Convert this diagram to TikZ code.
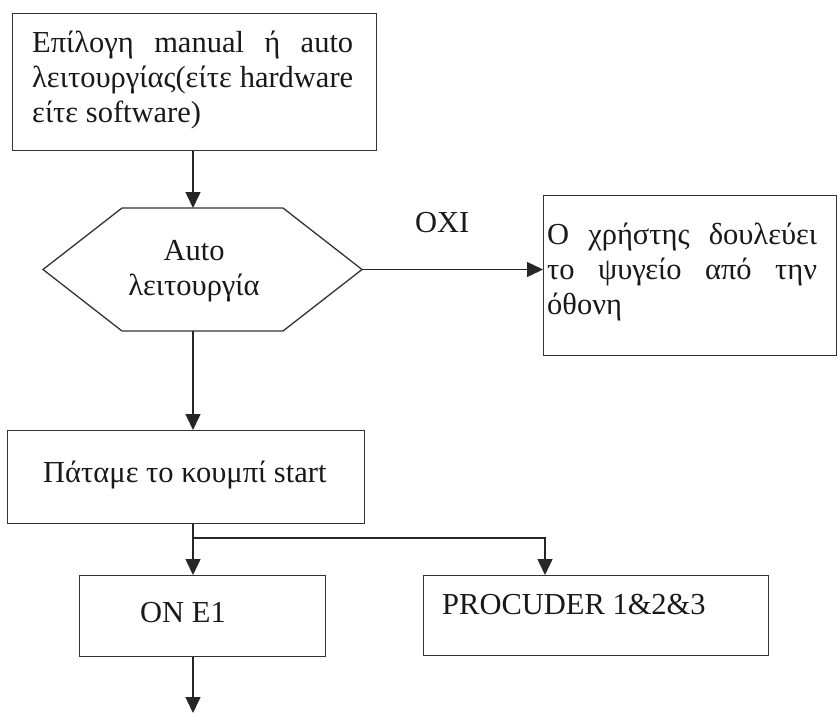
\documentclass[tikz,border=0pt]{standalone}
\usepackage{fontspec}
\setmainfont{Liberation Serif}
\usetikzlibrary{arrows.meta}

\newcommand{\flowfont}{\fontsize{30.5}{35}\selectfont}

\tikzset{
  box/.style={draw=black!80, line width=1.3pt, fill=white, inner sep=0pt, anchor=north west},
  txt/.style={inner sep=0pt, anchor=base west, text=black!90, font=\flowfont},
  link/.style={draw=black!85, line width=1.4pt},
  arr/.style={link, -{Triangle[length=16pt,width=15pt]}}
}

\begin{document}
\begin{tikzpicture}[x=1pt, y=-1pt]
  \useasboundingbox[fill=white] (0,0) rectangle (837,713);

  % boxes
  \node[box, minimum width=364pt, minimum height=137pt] (topbox) at (12,13) {};
  \node[box, minimum width=293pt, minimum height=160pt] (userbox) at (543,195) {};
  \node[box, minimum width=357pt, minimum height=93pt] (startbox) at (7,430) {};
  \node[box, minimum width=246pt, minimum height=81pt] (one) at (79,575) {};
  \node[box, minimum width=345pt, minimum height=80pt] (proc) at (423,575) {};

  % decision hexagon
  \coordinate (hexW) at (43,269.5);
  \coordinate (hexNW) at (122,208);
  \coordinate (hexNE) at (283,208);
  \coordinate (hexE) at (362,269.5);
  \coordinate (hexSE) at (283,331);
  \coordinate (hexSW) at (122,331);
  \coordinate (hexN) at (193,208);
  \coordinate (hexS) at (193,331);
  \draw[link, line width=1.3pt, draw=black!80] (hexW) -- (hexNW) -- (hexNE) -- (hexE) -- (hexSE) -- (hexSW) -- cycle;

  % texts
  \node[txt] (toptext) at (32,52) {\parbox[t]{321pt}{\flowfont
    \makebox[321pt][s]{Επίλογη manual ή auto}\\
    \makebox[321pt][s]{λειτουργίας(είτε hardware}\\
    είτε software)}};
  \node[txt] (usertext) at (547,244) {\parbox[t]{270pt}{\flowfont
    \makebox[270pt][s]{Ο χρήστης δουλεύει}\\
    \makebox[270pt][s]{το ψυγείο από την}\\
    όθονη}};
  \node[txt, anchor=base] (hextext) at (194,260) {\parbox[t]{200pt}{\flowfont\centering
    Auto\\λειτουργία}};
  \node[txt] (no) at (415,232) {ΟΧΙ};
  \node[txt] (starttext) at (43,482) {Πάταμε το κουμπί start};
  \node[txt] (onetext) at (140,622) {ON E1};
  \node[txt] (proctext) at (442,614) {PROCUDER 1\&2\&3};

  % connectors
  \coordinate (split) at (193,538);
  \coordinate (procIn) at (545,575);
  \coordinate (exit) at (193,713);
  \draw[arr] (topbox.south -| hexN) -- (hexN);
  \draw[arr] (hexE) -- (userbox.west |- hexE);
  \draw[arr] (hexS) -- (startbox.north -| hexS);
  \draw[arr] (startbox.south -| hexS) -- (one.north -| hexS);
  \draw[arr] (split) -| (procIn);
  \draw[arr] (one.south -| hexS) -- (exit);
\end{tikzpicture}
\end{document}
